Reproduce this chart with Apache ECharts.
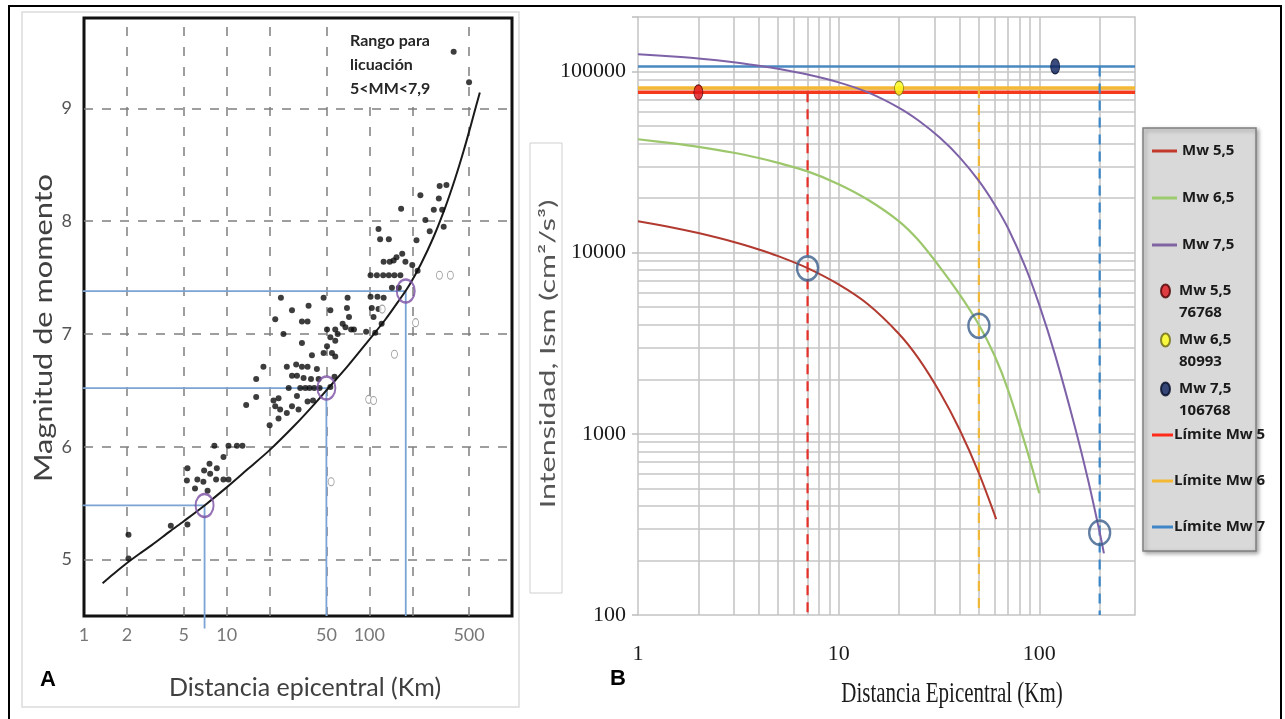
<!DOCTYPE html>
<html>
<head>
<meta charset="utf-8">
<title>Magnitud y distancia epicentral</title>
<script src="https://cdn.jsdelivr.net/npm/echarts@6/dist/echarts.min.js"></script>
<style>
  html, body { margin: 0; padding: 0; background: #fff; }
  #chart { width: 1285px; height: 719px; }
</style>
</head>
<body>
<div id="chart"></div>
<script>
// ---------- panel A: magnitud de momento vs distancia epicentral ----------
const xGridA = [2, 5, 10, 20, 50, 100, 200, 500];
const xLabelsA = [1, 2, 5, 10, 50, 100, 500];
const yTicksA = [5, 6, 7, 8, 9];

// curva limite
const limitCurveA = [[1.35, 4.79], [1.6, 4.87], [2, 4.97], [2.5, 5.06], [3, 5.13], [4, 5.25], [5, 5.34],
  [7, 5.48], [10, 5.64], [14, 5.8], [20, 5.97], [30, 6.19], [40, 6.36], [50, 6.5], [70, 6.71], [100, 6.95],
  [130, 7.13], [160, 7.29], [190, 7.43], [230, 7.62], [280, 7.85], [340, 8.12], [400, 8.38], [460, 8.63],
  [520, 8.87], [560, 9.02], [595, 9.14]];

// sismos con licuacion (puntos negros)
const eventsA = [
  [2.05, 5.01], [2.05, 5.22], [4.06, 5.3], [5.31, 5.31],
  [6.0, 5.63], [7.35, 5.61],
  [5.26, 5.7], [6.23, 5.71], [6.87, 5.69], [8.43, 5.71], [9.49, 5.71], [10.3, 5.71],
  [7.66, 5.76], [6.95, 5.79], [5.31, 5.81], [8.53, 5.81], [7.58, 5.85], [9.5, 5.91],
  [8.2, 6.01], [10.3, 6.01], [11.8, 6.01], [12.9, 6.01],
  [20, 6.19], [23.1, 6.25], [26.4, 6.3], [23.7, 6.33], [31.9, 6.33], [13.7, 6.37], [21.9, 6.36],
  [28.7, 6.36], [36.9, 6.4], [21.3, 6.41], [40.3, 6.41], [23.1, 6.43], [16.1, 6.44], [31.1, 6.45],
  [27.2, 6.52], [32.8, 6.52], [35.6, 6.52], [38.1, 6.52], [41.1, 6.52], [44.8, 6.52], [53.3, 6.53],
  [16.1, 6.6], [39, 6.6], [44.1, 6.6], [34.6, 6.61], [28.7, 6.63], [31.1, 6.63], [57, 6.62],
  [42.9, 6.69], [18.1, 6.71], [26.4, 6.71], [33.7, 6.71], [36.9, 6.71], [30.7, 6.73],
  [57.7, 6.8], [39.6, 6.81], [47.8, 6.83], [54.7, 6.83], [50.5, 6.89], [33.7, 6.92], [57.7, 6.94], [53.3, 6.97],
  [25, 7.0], [60, 7.0], [50.5, 7.04], [57.7, 7.04], [74.5, 7.04], [78, 7.04], [68, 7.06], [65, 7.09],
  [95, 7.02], [110, 7.01], [33.7, 7.11], [36.9, 7.11], [21.9, 7.13], [72, 7.15], [107, 7.15], [122, 7.09],
  [28.7, 7.21], [53.3, 7.21], [69.7, 7.23], [104, 7.23], [116, 7.22], [37.5, 7.25],
  [24, 7.32], [47.8, 7.32], [70.4, 7.32], [102, 7.33], [114, 7.33], [126, 7.32],
  [144, 7.41], [161, 7.41],
  [102, 7.52], [113, 7.52], [125, 7.52], [137, 7.52], [150, 7.52], [165, 7.52],
  [218, 7.56], [200, 7.61], [126, 7.64], [139, 7.64], [148, 7.65], [179, 7.64], [155, 7.68], [170, 7.71],
  [214, 7.83], [119, 7.84], [137, 7.84], [116, 7.93], [265, 7.91], [332, 7.95], [247, 8.01],
  [167, 8.11], [283, 8.1], [324, 8.1], [307, 8.2], [228, 8.23], [311, 8.31], [347, 8.32],
  [390, 9.5], [500, 9.23]
];
// sismos sin licuacion (circulos abiertos)
const eventsOpenA = [[54, 5.69], [99, 6.42], [107, 6.41], [150, 6.82], [211, 7.1], [123, 7.22], [310, 7.52], [370, 7.52]];

// puntos de lectura sobre la curva y hasta donde bajan las lineas azules
const refPointsA = [[7, 5.48], [50, 6.52], [180, 7.38]];
const refStartA = 0.89;
const refBottomA = [4.39, 4.5, 4.5];

// ---------- panel B: intensidad vs distancia epicentral ----------
const xGridB = [2, 3, 4, 5, 6, 7, 8, 9, 10, 20, 30, 40, 50, 60, 70, 80, 90, 100, 200];
const yGridB = [200, 300, 400, 500, 600, 700, 800, 900, 1000,
  2000, 3000, 4000, 5000, 6000, 7000, 8000, 9000, 10000,
  20000, 30000, 40000, 50000, 60000, 70000, 80000, 90000, 100000];

const curveMw55 = [[1, 14900], [1.5, 13740], [2, 12830], [3, 11460], [4, 10420], [5, 9570], [7, 8220],
  [10, 6680], [14, 5190], [20, 3560], [25, 2610], [32, 1690], [40, 1060], [50, 607], [61, 338]];
const curveMw65 = [[1, 42300], [1.5, 40100], [2, 38400], [3, 35600], [4, 33300], [5, 31300], [7, 28100],
  [10, 23900], [14, 19600], [20, 14900], [25, 11700], [32, 8300], [40, 5900], [50, 4000], [60, 2690],
  [70, 1740], [85, 880], [100, 470]];
const curveMw75 = [[1, 124500], [1.5, 121000], [2, 118000], [3, 112500], [4, 107600], [5, 103500],
  [7, 96200], [10, 87100], [14, 76700], [20, 63100], [25, 53700], [32, 43100], [40, 33700], [50, 24900],
  [60, 18400], [70, 13600], [85, 8410], [100, 5150], [120, 2720], [150, 1110], [175, 558], [200, 286], [210, 219]];

const limitMw5 = 76768;
const limitMw6 = 80993;
const limitMw7 = 106768;
const xRangeB = [1, 300];

const pointMw55 = [[2, 76768]];
const pointMw65 = [[20, 80993]];
const pointMw75 = [[120, 106768]];

const dropLinesB = [[7, 76768], [50, 80993], [200, 106768]];
const crossPointsB = [[7, 8200], [50, 3950], [200, 285]];

// ---------------------------------------------------------------
const ELLIPSE = 'path://M0,-1A1,1,0,1,1,0,1A1,1,0,1,1,0,-1Z';
// icono de leyenda: elipse alineada con la primera linea del texto (caja 9 x 44)
const LEGEND_DOT = 'path://M4.5,0M4.5,44M4.5,4.5A4.5,6.5,0,1,1,4.5,17.5A4.5,6.5,0,1,1,4.5,4.5Z';
const chart = echarts.init(document.getElementById('chart'));

const isPow10 = v => {
  const l = Math.log10(v);
  return Math.abs(l - Math.round(l)) < 1e-6;
};

const gridLine = (data, lineStyle) => ({
  silent: true,
  z: 1,
  symbol: ['none', 'none'],
  label: { show: false },
  emphasis: { disabled: true },
  lineStyle: lineStyle,
  data: data
});

const legendText = {
  fontFamily: 'Open Sans',
  fontWeight: 'bold',
  fontSize: 15,
  color: '#1a1a1a',
  lineHeight: 20
};

const option = {
  animation: false,
  grid: [
    { left: 84, right: 773, top: 18, bottom: 103, show: true, borderColor: '#111', borderWidth: 3,
      backgroundColor: 'rgba(0,0,0,0)', outerBoundsMode: 'none' },
    { left: 638, right: 150, top: 17, bottom: 104, show: true, borderColor: '#c4c4c4', borderWidth: 1.5,
      backgroundColor: '#fff', outerBoundsMode: 'none' }
  ],
  xAxis: [
    { gridIndex: 0, type: 'log', min: 1, max: 1000,
      axisLine: { show: false }, axisTick: { show: false }, axisLabel: { show: false }, splitLine: { show: false } },
    { gridIndex: 1, type: 'log', min: 1, max: 300,
      axisLine: { show: false }, axisTick: { show: false }, splitLine: { show: false },
      axisLabel: { formatter: v => (isPow10(v) ? String(Math.round(v)) : ''),
        fontFamily: 'Liberation Serif', fontSize: 22, color: '#1a1a1a', margin: 28 } }
  ],
  yAxis: [
    { gridIndex: 0, type: 'value', min: 4.5, max: 9.8, interval: 0.5,
      axisLine: { show: false }, axisTick: { show: false }, splitLine: { show: false },
      axisLabel: { formatter: v => (Number.isInteger(v) ? String(v) : ''),
        fontFamily: 'Lato', fontSize: 18, color: '#555', margin: 12 } },
    { gridIndex: 1, type: 'log', min: 100, max: 200000,
      axisLine: { show: false }, splitLine: { show: false },
      axisTick: { show: true, length: 6, lineStyle: { color: '#bdbdbd', width: 1.5 } },
      axisLabel: { formatter: v => (isPow10(v) ? String(Math.round(v)) : ''),
        fontFamily: 'Liberation Serif', fontSize: 22, color: '#1a1a1a', margin: 12 } }
  ],
  legend: [
    { data: ['Mw 5,5', 'Mw 6,5', 'Mw 7,5'], orient: 'vertical', left: 1147, top: 136,
      itemWidth: 25, itemHeight: 3, itemGap: 27, icon: 'rect', selectedMode: false, textStyle: legendText },
    { data: ['Mw 5,5 76768', 'Mw 6,5 80993', 'Mw 7,5 106768'], orient: 'vertical', left: 1155, top: 274,
      itemWidth: 9, itemHeight: 44, itemGap: 3, icon: LEGEND_DOT, selectedMode: false,
      formatter: n => n.replace(/ (\d+)$/, '\n$1'),
      textStyle: Object.assign({}, legendText, { lineHeight: 22, padding: [0, 0, 0, 4] }) },
    { data: ['Límite Mw 5', 'Límite Mw 6', 'Límite Mw 7'], orient: 'vertical', left: 1147, top: 420,
      itemWidth: 21, itemHeight: 3, itemGap: 26, icon: 'rect', selectedMode: false,
      textStyle: Object.assign({}, legendText, { padding: [0, 0, 0, -4] }) }
  ],
  graphic: { elements: [
    // marco general y recuadro del panel A
    { type: 'rect', silent: true, z: 20, shape: { x: 9, y: 6, width: 1272, height: 725 },
      style: { fill: 'none', stroke: '#000', lineWidth: 2 } },
    { type: 'rect', silent: true, z: -5, shape: { x: 22, y: 12, width: 497, height: 695 },
      style: { fill: 'none', stroke: '#dcdcdc', lineWidth: 1.5 } },
    // nota del panel A
    { type: 'rect', silent: true, z: 10, shape: { x: 345, y: 24, width: 88, height: 80 }, style: { fill: '#fff' } },
    { type: 'text', silent: true, z: 11, x: 350, y: 29,
      style: { text: 'Rango para\nlicuación\n5<MM<7,9', font: 'bold 16px Lato', fill: '#262626', lineHeight: 24 } },
    // titulos panel A
    { type: 'text', silent: true, z: 11, x: 44, y: 328, rotation: Math.PI / 2, scaleX: 1.23,
      style: { text: 'Magnitud de momento', font: '25px Lato', fill: '#404040', align: 'center', verticalAlign: 'middle' } },
    { type: 'text', silent: true, z: 11, x: 305, y: 688,
      style: { text: 'Distancia epicentral (Km)', font: '25px Lato', fill: '#404040', align: 'center', verticalAlign: 'middle' } },
    { type: 'text', silent: true, z: 11, x: 48, y: 680,
      style: { text: 'A', font: 'bold 22px Liberation Sans', fill: '#000', align: 'center', verticalAlign: 'middle' } },
    // titulos panel B
    { type: 'rect', silent: true, z: 1, shape: { x: 530, y: 143, width: 32, height: 450 },
      style: { fill: '#fff', stroke: '#d0d0d0', lineWidth: 1 } },
    { type: 'text', silent: true, z: 11, x: 548, y: 354, rotation: Math.PI / 2, scaleX: 1.45,
      style: { text: 'Intensidad, Ism (cm²/s³)', font: '21px Lato', fill: '#555', align: 'center', verticalAlign: 'middle' } },
    { type: 'text', silent: true, z: 11, x: 952, y: 694, scaleY: 1.45,
      style: { text: 'Distancia Epicentral (Km)', font: '21px Liberation Serif', fill: '#1a1a1a', align: 'center', verticalAlign: 'middle' } },
    { type: 'text', silent: true, z: 11, x: 618, y: 679,
      style: { text: 'B', font: 'bold 22px Liberation Sans', fill: '#000', align: 'center', verticalAlign: 'middle' } },
    // caja de la leyenda
    { type: 'rect', silent: true, z: 1, shape: { x: 1143, y: 128, width: 113, height: 423 },
      style: { fill: '#d9d9d9', stroke: '#808080', lineWidth: 1.5,
        shadowBlur: 4, shadowOffsetX: 2, shadowOffsetY: 2, shadowColor: 'rgba(0,0,0,0.35)' } }
  ] },
  series: [
    // ----- panel A -----
    { type: 'line', name: 'gridA', xAxisIndex: 0, yAxisIndex: 0, data: [], z: 1,
      markLine: gridLine(
        xGridA.map(v => ({ xAxis: v, lineStyle: { color: '#7f7f7f', width: 1.5, type: [9, 11] } }))
          .concat(yTicksA.map(v => ({ yAxis: v, lineStyle: { color: '#7f7f7f', width: 1.5, type: [9, 9] } }))),
        { color: '#7f7f7f', width: 1.5, type: [9, 9] }) },
    ...refPointsA.map((p, i) => ({
      type: 'line', xAxisIndex: 0, yAxisIndex: 0, z: 2, clip: false, silent: true,
      symbol: 'none', lineStyle: { color: '#7ba3d4', width: 1.8 },
      data: [[refStartA, p[1]], p, [p[0], refBottomA[i]]]
    })),
    { type: 'line', name: 'curvaA', xAxisIndex: 0, yAxisIndex: 0, z: 3, smooth: 0.3, symbol: 'none', silent: true,
      lineStyle: { color: '#1a1a1a', width: 2 }, data: limitCurveA },
    { type: 'scatter', xAxisIndex: 0, yAxisIndex: 0, z: 4, silent: true, symbolSize: 6,
      itemStyle: { color: '#0d0d0d' }, data: eventsA },
    { type: 'scatter', xAxisIndex: 0, yAxisIndex: 0, z: 4, silent: true, symbol: ELLIPSE, symbolSize: [6, 8],
      itemStyle: { color: '#fff', borderColor: '#8a8a8a', borderWidth: 1 }, data: eventsOpenA },
    { type: 'scatter', xAxisIndex: 0, yAxisIndex: 0, z: 5, silent: true, symbol: ELLIPSE, symbolSize: [18, 23],
      itemStyle: { color: 'rgba(0,0,0,0)', borderColor: '#7a4ea3', borderWidth: 2.2 }, data: refPointsA },
    { type: 'scatter', xAxisIndex: 0, yAxisIndex: 0, z: 5, silent: true, clip: false, symbolSize: 1,
      itemStyle: { color: 'rgba(0,0,0,0)' },
      label: { show: true, position: 'bottom', distance: 10, formatter: p => String(p.value[0]),
        fontFamily: 'Lato', fontSize: 18, color: '#555' },
      data: xLabelsA.map(v => [v, 4.5]) },

    // ----- panel B -----
    { type: 'line', name: 'gridB', xAxisIndex: 1, yAxisIndex: 1, data: [], z: 1,
      markLine: gridLine(xGridB.map(v => ({ xAxis: v })).concat(yGridB.map(v => ({ yAxis: v }))),
        { color: '#c6c6c6', width: 1.6, type: 'solid' }) },
    { type: 'line', name: 'Límite Mw 6', xAxisIndex: 1, yAxisIndex: 1, z: 2, symbol: 'none', silent: true,
      itemStyle: { color: '#f5b835' }, lineStyle: { color: '#f5b835', width: 3.5 },
      data: xRangeB.map(x => [x, limitMw6]) },
    { type: 'line', name: 'Límite Mw 5', xAxisIndex: 1, yAxisIndex: 1, z: 2, symbol: 'none', silent: true,
      itemStyle: { color: '#ff2a1a' }, lineStyle: { color: '#f53a1c', width: 3.5 },
      data: xRangeB.map(x => [x, limitMw5]) },
    { type: 'line', name: 'Límite Mw 7', xAxisIndex: 1, yAxisIndex: 1, z: 2, symbol: 'none', silent: true,
      itemStyle: { color: '#3f86c6' }, lineStyle: { color: '#4a88c2', width: 2.5 },
      data: xRangeB.map(x => [x, limitMw7]) },
    ...dropLinesB.map((p, i) => ({
      type: 'line', xAxisIndex: 1, yAxisIndex: 1, z: 2, symbol: 'none', silent: true,
      lineStyle: { color: ['#e5312a', '#f0b83a', '#3a86c8'][i], width: 2.2, type: [10, 7] },
      data: [p, [p[0], 100]]
    })),
    { type: 'line', name: 'Mw 5,5', xAxisIndex: 1, yAxisIndex: 1, z: 3, smooth: 0.3, symbol: 'none', silent: true,
      itemStyle: { color: '#c0392b' }, lineStyle: { color: '#b23a30', width: 2 }, data: curveMw55 },
    { type: 'line', name: 'Mw 6,5', xAxisIndex: 1, yAxisIndex: 1, z: 3, smooth: 0.3, symbol: 'none', silent: true,
      itemStyle: { color: '#9ccc6e' }, lineStyle: { color: '#9dc76c', width: 2.2 }, data: curveMw65 },
    { type: 'line', name: 'Mw 7,5', xAxisIndex: 1, yAxisIndex: 1, z: 3, smooth: 0.3, symbol: 'none', silent: true,
      itemStyle: { color: '#8064a2' }, lineStyle: { color: '#7e62a8', width: 2 }, data: curveMw75 },
    { type: 'scatter', name: 'Mw 5,5 76768', xAxisIndex: 1, yAxisIndex: 1, z: 5, silent: true,
      symbol: ELLIPSE, symbolSize: [9, 15],
      itemStyle: { color: '#e0141c', borderColor: '#4d0000', borderWidth: 1 }, data: pointMw55 },
    { type: 'scatter', name: 'Mw 6,5 80993', xAxisIndex: 1, yAxisIndex: 1, z: 5, silent: true,
      symbol: ELLIPSE, symbolSize: [9, 14],
      itemStyle: { color: '#ffff1a', borderColor: '#6b6a10', borderWidth: 1 }, data: pointMw65 },
    { type: 'scatter', name: 'Mw 7,5 106768', xAxisIndex: 1, yAxisIndex: 1, z: 5, silent: true,
      symbol: ELLIPSE, symbolSize: [9, 15],
      itemStyle: { color: '#0b1f5c', borderColor: '#020a26', borderWidth: 1 }, data: pointMw75 },
    { type: 'scatter', xAxisIndex: 1, yAxisIndex: 1, z: 6, silent: true, symbol: ELLIPSE, symbolSize: [21, 24],
      itemStyle: { color: 'rgba(0,0,0,0)', borderColor: '#3b5f8c', borderWidth: 2.5 }, data: crossPointsB }
  ]
};

chart.setOption(option);
</script>
</body>
</html>
